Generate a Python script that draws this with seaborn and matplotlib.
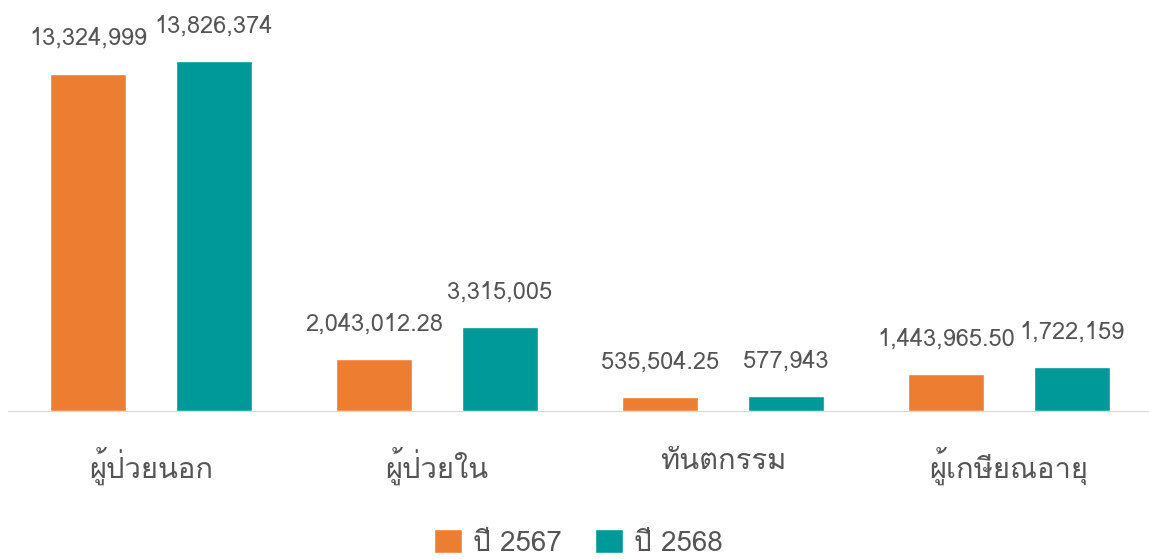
import matplotlib
matplotlib.use("Agg")
import matplotlib.pyplot as plt
from matplotlib import font_manager
from matplotlib.ft2font import FT2Font
import pandas as pd
import seaborn as sns

# ข้อมูล
categories = ["ผู้ป่วยนอก", "ผู้ป่วยใน", "ทันตกรรม", "ผู้เกษียณอายุ"]
years = ["ปี 2567", "ปี 2568"]
values_2567 = [13324999, 2043012.28, 535504.25, 1443965.50]
values_2568 = [13826374, 3315005, 577943, 1722159]
labels_2567 = ["13,324,999", "2,043,012.28", "535,504.25", "1,443,965.50"]
labels_2568 = ["13,826,374", "3,315,005", "577,943", "1,722,159"]
colors = ["#ED7D31", "#009999"]


# หา font ที่มีอักษรไทย
def find_thai_font():
    for f in font_manager.fontManager.ttflist:
        try:
            if 0x0E1C in FT2Font(f.fname).get_charmap():
                return f.name
        except Exception:
            pass
    return None


sns.set_style("white")
thai = find_thai_font()
plt.rcParams["font.family"] = [thai, "DejaVu Sans"] if thai else ["DejaVu Sans"]

df = pd.DataFrame({
    "category": categories * 2,
    "year": [years[0]] * 4 + [years[1]] * 4,
    "value": values_2567 + values_2568,
})

fig = plt.figure(figsize=(11.49, 5.59), dpi=100)
ax = fig.add_axes([8 / 1149, 148 / 559, 1141 / 1149, 411 / 559])
sns.barplot(data=df, x="category", y="value", hue="year", palette=colors,
            width=0.88, gap=0.4, saturation=1, ax=ax)

for cont, labs in zip(ax.containers, [labels_2567, labels_2568]):
    ax.bar_label(cont, labels=labs, padding=17, fontsize=17, color="#555555")

ax.set_ylim(0, 16.23e6)
ax.set_xlim(-0.5, 3.49)
ax.set_yticks([])
ax.set_xlabel("")
ax.set_ylabel("")
ax.tick_params(axis="x", length=0, pad=26, labelsize=21, labelcolor="#555555")
for s in ["top", "left", "right"]:
    ax.spines[s].set_visible(False)
ax.spines["bottom"].set_color("#d9d9d9")

ax.legend(loc="lower center", bbox_to_anchor=(0.5, -0.415), ncol=2, frameon=False,
          fontsize=20, labelcolor="#555555", handlelength=1.0, handleheight=1.0,
          columnspacing=1.2, handletextpad=0.4)

fig.savefig("out.png", dpi=100)
